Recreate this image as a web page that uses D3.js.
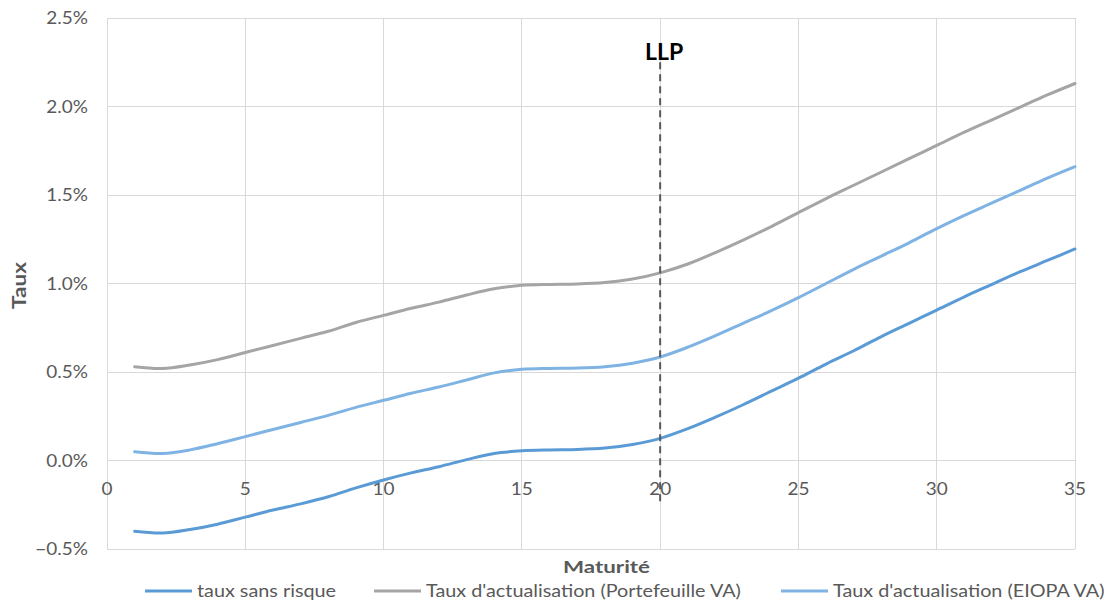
<!DOCTYPE html>
<html><head><meta charset="utf-8">
<script src="https://cdn.jsdelivr.net/npm/d3@7"></script>
<style>
html,body{margin:0;padding:0;background:#fff;}
text{font-family:Lato,"Open Sans",sans-serif;}
</style></head>
<body><svg id="chart" width="1105" height="600"></svg>
<script>
const maturities = d3.range(1, 36);
const tauxSansRisque = [-0.40,-0.41,-0.39,-0.36,-0.32,-0.28,-0.245,-0.205,-0.155,-0.11,-0.07,-0.035,0.005,0.04,0.055,0.06,0.062,0.07,0.09,0.125,0.18,0.245,0.315,0.39,0.465,0.545,0.62,0.70,0.775,0.85,0.925,0.995,1.065,1.13,1.195];
const tauxPortefeuilleVA = [0.53,0.52,0.54,0.57,0.61,0.65,0.69,0.73,0.78,0.82,0.86,0.895,0.935,0.97,0.99,0.995,0.997,1.005,1.025,1.06,1.11,1.175,1.245,1.32,1.40,1.48,1.555,1.63,1.705,1.78,1.855,1.925,1.995,2.065,2.13];
const tauxEiopaVA = [0.05,0.04,0.06,0.095,0.135,0.175,0.215,0.255,0.30,0.34,0.38,0.415,0.455,0.495,0.515,0.52,0.522,0.53,0.55,0.585,0.64,0.705,0.775,0.845,0.92,1.00,1.08,1.155,1.23,1.31,1.385,1.455,1.525,1.595,1.66];
const xTicks = [0,5,10,15,20,25,30,35];
const yTicks = [-0.5,0,0.5,1.0,1.5,2.0,2.5];
const llpMaturity = 20;
const llpRange = [-0.25, 2.25];
const seriesNames = ["taux sans risque","Taux d'actualisation (Portefeuille VA)","Taux d'actualisation (EIOPA VA)"];

const svg = d3.select("#chart");
const x = d3.scaleLinear().domain([0,35]).range([107,1075]);
const y = d3.scaleLinear().domain([-0.5,2.5]).range([549,18]);
const grid = "#D9D9D9", txt = "#595959";
const SX = 1.15; // horizontal text stretch

// horizontal gridlines
svg.append("g").selectAll("line").data(yTicks).join("line")
  .attr("x1", x(0)).attr("x2", x(35)).attr("y1", d=>y(d)).attr("y2", d=>y(d))
  .attr("stroke", grid).attr("stroke-width", 1).attr("shape-rendering","crispEdges");
// vertical gridlines
svg.append("g").selectAll("line").data(xTicks).join("line")
  .attr("x1", d=>x(d)).attr("x2", d=>x(d)).attr("y1", y(2.5)).attr("y2", y(-0.5))
  .attr("stroke", grid).attr("stroke-width", 1).attr("shape-rendering","crispEdges");

// y tick labels
const yFmt = d => d3.format(".1f")(d) + "%";
svg.append("g").selectAll("text").data(yTicks).join("text")
  .attr("transform", d=>`translate(${x(0)-19},${y(d)+6}) scale(${SX},1)`)
  .attr("text-anchor","end").attr("fill", txt).style("font-size","16.5px").text(yFmt);

// x tick labels (at 0%)
svg.append("g").selectAll("text").data(xTicks).join("text")
  .attr("transform", d=>`translate(${x(d)},${y(0)+34}) scale(${SX},1)`)
  .attr("text-anchor","middle").attr("fill", txt).style("font-size","16.5px").text(d3.format("d"));

// series
const series = [
  {name: seriesNames[0], values: tauxSansRisque, color: "#5B9BD5", w: 3},
  {name: seriesNames[1], values: tauxPortefeuilleVA, color: "#A5A5A5", w: 3},
  {name: seriesNames[2], values: tauxEiopaVA, color: "#7FB3E3", w: 3}
];
const line = d3.line().x((d,i)=>x(maturities[i])).y(d=>y(d)).curve(d3.curveCatmullRom.alpha(0.5));
svg.append("g").selectAll("path").data(series).join("path")
  .attr("d", d=>line(d.values)).attr("fill","none")
  .attr("stroke", d=>d.color).attr("stroke-width", d=>d.w).attr("stroke-linecap","round");

// LLP line
svg.append("line").attr("x1", x(llpMaturity)).attr("x2", x(llpMaturity))
  .attr("y1", y(llpRange[1])).attr("y2", y(llpRange[0]))
  .attr("stroke", "#595959").attr("stroke-width", 2).attr("stroke-dasharray","7,5");
svg.append("text").attr("x", x(llpMaturity)+4).attr("y", 60).attr("text-anchor","middle")
  .attr("fill","#000").style("font-size","23px").style("font-weight","bold").text("LLP");

// axis titles
svg.append("text").attr("transform", `translate(26,${(y(2.5)+y(-0.5))/2+2}) rotate(-90)`)
  .attr("text-anchor","middle").attr("fill", txt).style("font-size","19px").style("font-weight","bold")
  .attr("textLength", 47).attr("lengthAdjust","spacingAndGlyphs").text("Taux");
svg.append("text").attr("x", 563).attr("y", 573)
  .attr("fill", txt).style("font-size","17px").style("font-weight","bold")
  .attr("textLength", 87).attr("lengthAdjust","spacingAndGlyphs").text("Maturité");

// legend
const legendX = [145, 374, 781];
const lg = svg.append("g").selectAll("g").data(series).join("g")
  .attr("transform", (d,i)=>`translate(${legendX[i]},591)`);
lg.append("line").attr("x1",0).attr("x2",47).attr("y1",0).attr("y2",0)
  .attr("stroke", d=>d.color).attr("stroke-width",3);
lg.append("text").attr("transform", `translate(52,6) scale(1.1,1)`)
  .attr("fill", txt).style("font-size","18px").text(d=>d.name);
</script></body></html>
